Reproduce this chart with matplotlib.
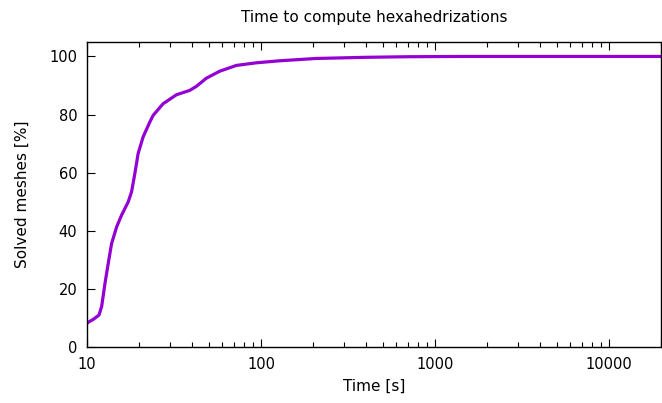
import matplotlib
matplotlib.use("Agg")
from matplotlib import pyplot as plt
from matplotlib.ticker import LogLocator, FixedLocator, NullFormatter

# time [s] vs percentage of solved meshes
time_s = [10.0, 10.09, 10.87, 11.72, 12.14, 12.69, 13.25, 13.85, 14.80, 15.81,
          17.25, 18.04, 18.84, 19.68, 21.02, 22.96, 23.99, 27.36, 32.66, 38.93,
          42.53, 48.53, 57.84, 72.11, 93.87, 127.6, 207.2, 400, 700, 1500,
          5000, 20000]
solved = [8.1, 8.4, 9.5, 11.0, 13.9, 21.9, 28.8, 35.6, 41.3, 45.4,
          49.9, 53.4, 59.7, 66.6, 72.3, 77.4, 79.7, 83.7, 86.8, 88.3,
          89.7, 92.5, 94.9, 96.9, 97.8, 98.5, 99.3, 99.7, 99.9, 100,
          100, 100]
yticks = [0, 20, 40, 60, 80, 100]
xticks = [10, 100, 1000, 10000]

plt.rcParams['font.family'] = ['DejaVu Sans']
plt.rcParams['font.size'] = 10.5

fig = plt.figure(figsize=(6.62, 4.03), dpi=100)
ax = fig.add_axes([0.1314, 0.139, 0.8675, 0.757])
ax.plot(time_s, solved, color='#9400D3', lw=2.3, solid_joinstyle='round')
ax.set_xscale('log')
ax.set_xlim(10, 20000)
ax.set_ylim(0, 105)
ax.xaxis.set_major_locator(FixedLocator(xticks))
ax.set_xticklabels([str(t) for t in xticks])
ax.xaxis.set_minor_locator(LogLocator(base=10, subs=range(2, 10), numticks=20))
ax.xaxis.set_minor_formatter(NullFormatter())
ax.set_yticks(yticks)
ax.tick_params(which='major', direction='in', length=6, width=0.8, top=True, right=False, pad=7)
ax.tick_params(which='minor', direction='in', length=3.5, width=0.8, top=True)
for s in ax.spines.values():
    s.set_linewidth(1.0)
ax.set_title('Time to compute hexahedrizations', fontsize=11, pad=14)
ax.set_xlabel('Time [s]', fontsize=11, labelpad=5)
ax.set_ylabel('Solved meshes [%]', fontsize=11, labelpad=14)
fig.savefig('out.png', dpi=100)
